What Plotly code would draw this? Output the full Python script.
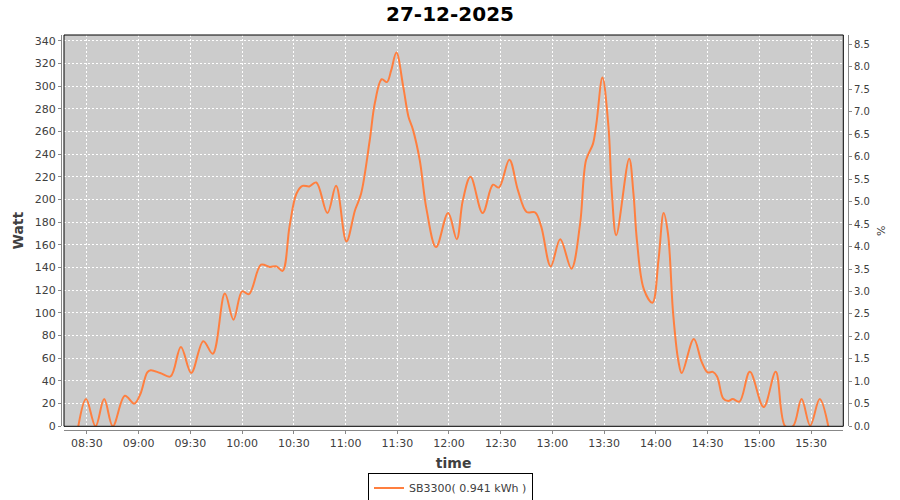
import pandas as pd
import plotly.graph_objects as go

DATE = "2025-12-27"

times = [
    "08:25:00", "08:29:30", "08:35:00", "08:40:00", "08:45:00", "08:52:00", "08:57:30", "09:01:00",
    "09:05:00", "09:07:00", "09:12:30", "09:18:30", "09:24:30", "09:30:30", "09:37:30", "09:43:00",
    "09:50:00", "09:55:00", "10:00:00", "10:04:00", "10:11:00", "10:16:00", "10:20:00", "10:23:30",
    "10:27:30", "10:31:30", "10:35:00", "10:39:00", "10:43:00", "10:49:30", "10:54:30", "11:00:30",
    "11:05:30", "11:09:00", "11:14:00", "11:17:00", "11:21:00", "11:24:00", "11:26:30", "11:29:30",
    "11:33:30", "11:36:30", "11:39:00", "11:43:00", "11:47:00", "11:52:30", "11:59:30", "12:04:30",
    "12:08:00", "12:12:30", "12:19:30", "12:25:30", "12:29:00", "12:35:00", "12:40:00", "12:45:00",
    "12:50:00", "12:53:30", "12:59:00", "13:04:30", "13:11:00", "13:16:00", "13:19:30", "13:23:30",
    "13:25:30", "13:29:00", "13:32:30", "13:34:30", "13:37:00", "13:44:30", "13:47:00", "13:49:00",
    "13:53:00", "13:58:00", "14:01:30", "14:04:30", "14:07:00", "14:10:00", "14:13:00", "14:15:00",
    "14:22:00", "14:26:30", "14:30:00", "14:33:00", "14:35:30", "14:39:00", "14:42:00", "14:44:30",
    "14:48:30", "14:54:30", "15:02:30", "15:09:30", "15:15:00", "15:19:30", "15:24:30", "15:29:30",
    "15:35:00", "15:40:00",
]

watts = [
    0, 24, 0, 24, 0, 27, 20, 28.5,
    47.6, 49.5, 47, 44, 70, 47, 75, 64,
    117, 94, 119, 116.5, 142.5, 140.5, 141, 137,
    176, 205, 212, 211.5, 215, 188, 212, 163,
    190.5, 205, 252, 285, 306, 303.5, 314, 329.5,
    299, 273, 262, 235, 191, 158, 188, 165,
    199, 220, 188, 213, 210.5, 235, 208, 189,
    188.5, 176, 141, 165, 139, 178, 234.7, 249,
    267, 307.5, 264, 205, 168.5, 236, 205, 164,
    121, 109, 146.5, 188, 170, 99.5, 58, 47,
    77, 57, 47.5, 48, 44, 24.7, 22.3, 24,
    21.8, 48, 17, 48, 0, 0, 24, 0.5,
    24, 0,
]

series_name = "SB3300( 0.941 kWh )"
title_text = "27-12-2025"

x_vals = pd.to_datetime([f"{DATE} {t}" for t in times])

FONT = "DejaVu Sans"
TXT = "#404040"
AXC = "#888888"

fig = go.Figure()
fig.add_trace(go.Scatter(
    x=x_vals, y=watts, mode="lines", name=series_name,
    line=dict(color="#FF7F3F", width=2, shape="spline", smoothing=1),
))
fig.add_trace(go.Scatter(
    x=[x_vals[0]], y=[0], yaxis="y2", mode="lines", showlegend=False,
    hoverinfo="skip", line=dict(width=0),
))

grid = dict(showgrid=True, gridcolor="white", griddash="2px,2px", gridwidth=1, zeroline=False)

fig.update_layout(
    width=900, height=500, autosize=False,
    margin=dict(l=61, r=52, t=35, b=70, pad=0, autoexpand=False),
    paper_bgcolor="white", plot_bgcolor="#CCCCCC",
    font=dict(family=FONT, color=TXT, size=11),
    title=dict(text=title_text, x=0.5, xref="container", xanchor="center",
               y=1 - 14 / 500, yref="container", yanchor="middle",
               font=dict(family=FONT, size=20, color="black", weight="bold")),
    xaxis=dict(
        type="date", range=[f"{DATE} 08:16:42", f"{DATE} 15:48:42"],
        domain=[3 / 787, 782.3 / 787], anchor="free", position=0,
        tick0=f"{DATE} 08:30:00", dtick=30 * 60 * 1000, tickformat="%H:%M",
        showline=True, linecolor=AXC, linewidth=1,
        ticks="outside", ticklen=3, tickcolor=AXC,
        tickfont=dict(size=11, color=TXT), automargin=False,
        title=dict(text="time", font=dict(size=14, color=TXT, weight="bold"), standoff=8),
        **grid,
    ),
    yaxis=dict(
        range=[0, 345], domain=[3.7 / 395, 1], anchor="free", position=0,
        tick0=0, dtick=20,
        showline=True, linecolor=AXC, linewidth=1,
        ticks="outside", ticklen=3, tickcolor=AXC,
        tickfont=dict(size=11, color=TXT), automargin=False,
        title=dict(text="Watt", font=dict(size=14, color=TXT, weight="bold"), standoff=6),
        **grid,
    ),
    yaxis2=dict(
        range=[0, 8.707], overlaying="y", side="right", anchor="free", position=1,
        tick0=0, dtick=0.5, tickformat=".1f",
        showline=True, linecolor=AXC, linewidth=1,
        ticks="outside", ticklen=3, tickcolor=AXC,
        tickfont=dict(size=10, color=TXT), automargin=False,
        showgrid=False, zeroline=False,
        title=dict(text="%", font=dict(size=11, color=TXT), standoff=8),
    ),
    legend=dict(
        orientation="h", x=(450.5 - 61) / 787, xref="paper", xanchor="center",
        y=-(488 - 430) / 395, yref="paper", yanchor="middle",
        bordercolor="black", borderwidth=1, bgcolor="white",
        font=dict(family=FONT, size=11, color=TXT), itemwidth=30,
    ),
    shapes=[dict(type="rect", xref="x domain", yref="y domain", x0=0, x1=1, y0=0, y1=1,
                 line=dict(color="black", width=1), fillcolor="rgba(0,0,0,0)", layer="above")],
    hovermode=False,
)

fig.write_html("out.html", config={"displayModeBar": False},
               post_script="document.body.style.margin='0px';document.body.style.overflow='hidden';")
